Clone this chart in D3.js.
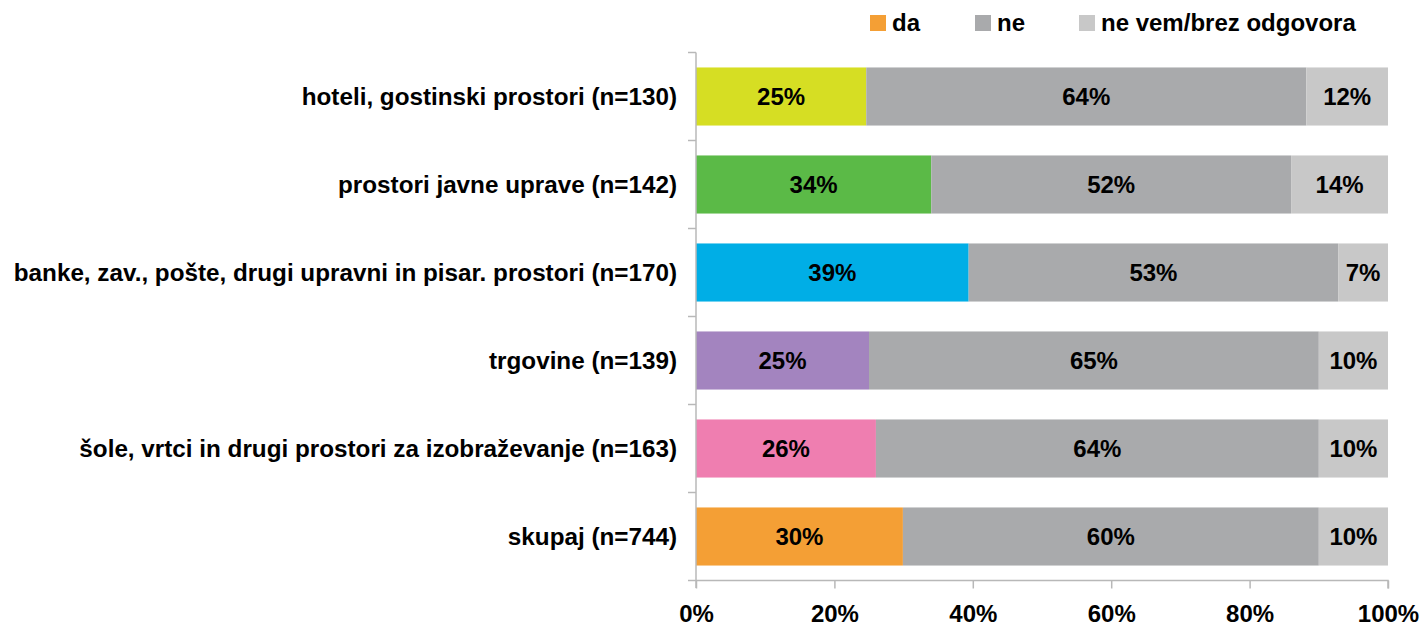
<!DOCTYPE html>
<html><head><meta charset="utf-8">
<script src="https://cdn.jsdelivr.net/npm/d3@7"></script>
<style>body{margin:0;background:#fff;} text{font-family:"Liberation Sans",Arial,sans-serif;font-weight:bold;}</style>
</head><body>
<svg id="c" width="1422" height="627"></svg>
<script>
const categories = ["hoteli, gostinski prostori (n=130)","prostori javne uprave (n=142)","banke, zav., pošte, drugi upravni in pisar. prostori (n=170)","trgovine (n=139)","šole, vrtci in drugi prostori za izobraževanje (n=163)","skupaj (n=744)"];
const seriesNames = ["da","ne","ne vem/brez odgovora"];
const da = [24.6,34.0,39.4,25.0,26.0,29.9];
const ne = [63.6,52.0,53.4,65.0,64.0,60.1];
const nevem = [11.8,14.0,7.2,10.0,10.0,10.0];
const daColors = ["#d6de23","#5bba47","#00aee6","#a384bf","#ef7eb0","#f49f35"];
const seriesColors = ["#f49f35","#a9aaac","#c8c8c8"];
const xTicks = [0,20,40,60,80,100];

const FS = "24px";
const svg = d3.select("#c");
const x = d3.scaleLinear().domain([0,100]).range([696,1388]);
const y = d3.scaleBand().domain(categories).range([52.5,580.5]).paddingInner(0.34).paddingOuter(0.17);

const rows = categories.map((c,i)=>({c,i,vals:[da[i],ne[i],nevem[i]]}));
rows.forEach(r=>{
  let acc=0;
  r.vals.forEach((v,k)=>{
    const x0=x(acc), x1=x(acc+v);
    svg.append("rect").attr("x",x0).attr("y",y(r.c)).attr("width",x1-x0).attr("height",y.bandwidth())
      .attr("fill", k===0?daColors[r.i]:seriesColors[k]);
    svg.append("text").attr("x",(x0+x1)/2).attr("y",y(r.c)+y.bandwidth()/2).attr("dy","0.36em")
      .attr("text-anchor","middle").attr("font-size",FS).attr("fill","#000")
      .text(Math.round(v)+"%");
    acc+=v;
  });
});

// left axis
const yAxis = svg.append("g").attr("transform","translate(696,0)");
yAxis.append("line").attr("x1",0).attr("x2",0).attr("y1",52.5).attr("y2",588).attr("stroke","#b8b8b8").attr("stroke-width",1.5);
const bounds = d3.range(categories.length+1).map(i=>52.5+i*y.step());
bounds.forEach(b=>yAxis.append("line").attr("x1",-8).attr("x2",0).attr("y1",b).attr("y2",b).attr("stroke","#b8b8b8").attr("stroke-width",1.5));
categories.forEach(c=>{
  svg.append("text").attr("x",677).attr("y",y(c)+y.bandwidth()/2).attr("dy","0.36em")
    .attr("text-anchor","end").attr("font-size","24.25px").attr("fill","#000").text(c);
});

// bottom axis
const xa = svg.append("g").attr("transform","translate(0,580.5)")
  .call(d3.axisBottom(x).tickValues(xTicks).tickSize(8).tickPadding(16).tickFormat(d=>d+"%"));
xa.select(".domain").attr("stroke","#b8b8b8").attr("stroke-width",1.5).attr("d","M696,0H1388V8");
xa.selectAll(".tick line").attr("stroke","#b8b8b8").attr("stroke-width",1.5);
xa.selectAll(".tick text").attr("font-size",FS).attr("fill","#000").attr("font-family","Liberation Sans, Arial, sans-serif").attr("font-weight","bold");

// legend
const legX = [870,975,1079];
seriesNames.forEach((s,k)=>{
  svg.append("rect").attr("x",legX[k]).attr("y",15).attr("width",16).attr("height",16).attr("fill",seriesColors[k]);
  svg.append("text").attr("x",legX[k]+22).attr("y",31).attr("font-size",FS).attr("fill","#000").text(s);
});
</script>
</body></html>
